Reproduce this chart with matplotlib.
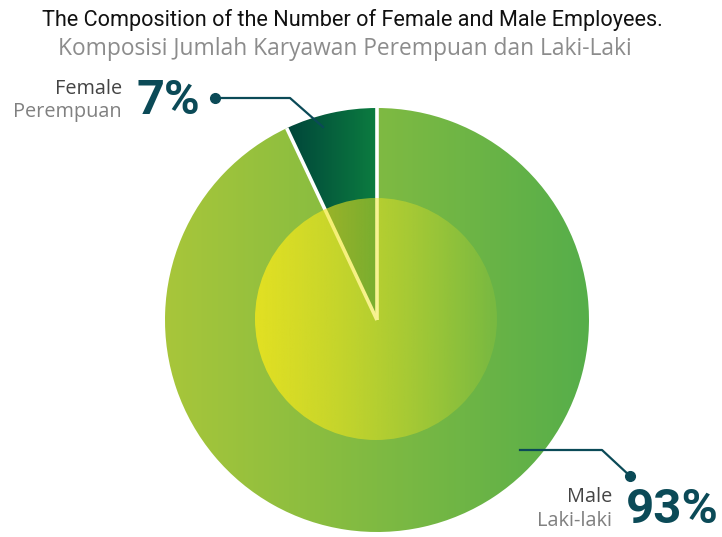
import numpy as np
import matplotlib.pyplot as plt
from matplotlib.patches import Wedge, Circle
from matplotlib.colors import LinearSegmentedColormap

labels_en = ["Female", "Male"]
labels_id = ["Perempuan", "Laki-laki"]
shares = [7, 93]
title_en = "The Composition of the Number of Female and Male Employees."
title_id = "Komposisi Jumlah Karyawan Perempuan dan Laki-Laki"

W, H = 722, 537
TEAL = "#0b4a57"
FONT = "Roboto"
FONT2 = "Open Sans"


def main():
    fig = plt.figure(figsize=(W / 100, H / 100), dpi=100)
    ax = fig.add_axes([0, 0, 1, 1])
    ax.set_xlim(0, W)
    ax.set_ylim(0, H)
    ax.axis("off")

    cx, cy, R = 377, 217, 212
    grad = np.linspace(0, 1, 256).reshape(1, -1)

    cmaps = [
        LinearSegmentedColormap.from_list("f", ["#00453a", "#0c7d40"]),
        LinearSegmentedColormap.from_list("m", ["#a8c63a", "#56ae4a"]),
    ]

    total = sum(shares)
    start = 90
    wedges = []
    for val, cmap in zip(shares, cmaps):
        end = start + 360 * val / total
        w = Wedge((cx, cy), R, start, end, facecolor="none", edgecolor="none")
        ax.add_patch(w)
        # gradient across the wedge's own horizontal extent
        x0, x1 = (cx - R, cx + R)
        if end - start < 180:
            a0, a1 = np.deg2rad(start), np.deg2rad(end)
            xs = [cx, cx + R * np.cos(a0), cx + R * np.cos(a1)]
            x0, x1 = min(xs), max(xs)
        im = ax.imshow(grad, cmap=cmap, extent=[x0, x1, cy - R, cy + R],
                       aspect="auto", zorder=1)
        im.set_clip_path(w)
        wedges.append((start, end))
        start = end

    # white separators
    for ang in [wedges[0][0], wedges[0][1]]:
        a = np.deg2rad(ang)
        ax.plot([cx, cx + R * np.cos(a)], [cy, cy + R * np.sin(a)],
                color="white", lw=2.6, zorder=2, solid_capstyle="butt")

    # inner translucent overlay
    r = 121
    ic = Circle((cx - 1, cy + 1), r, facecolor="none", edgecolor="none")
    ax.add_patch(ic)
    rgba = np.zeros((1, 256, 4))
    rgba[..., 0] = 240 / 255
    rgba[..., 1] = 230 / 255
    rgba[..., 2] = 30 / 255
    rgba[..., 3] = np.linspace(0.85, 0.12, 256)
    ov = ax.imshow(rgba, extent=[cx - 1 - r, cx - 1 + r, cy + 1 - r, cy + 1 + r],
                   aspect="auto", zorder=3)
    ov.set_clip_path(ic)

    # titles
    ax.text(352, H - 20, title_en, ha="center", va="center", fontsize=15.6,
            color="#111111", family=FONT)
    ax.text(345, H - 49, title_id, ha="center", va="center", fontsize=16.4,
            color="#8c8c8c", family=FONT2)

    # female callout
    ax.plot([215, 290, 323], [H - 98, H - 98, H - 127], color=TEAL, lw=1.6, zorder=4)
    ax.plot(215, H - 98, "o", color=TEAL, ms=7, zorder=4)
    ax.text(122, H - 89, labels_en[0], ha="right", va="center", fontsize=14.3,
            color="#444444", family=FONT2)
    ax.text(122, H - 112, labels_id[0], ha="right", va="center", fontsize=14.3,
            color="#808080", family=FONT2)
    ax.text(136, H - 101, f"{shares[0]}%", ha="left", va="center", fontsize=35,
            color=TEAL, fontweight="bold", family=FONT)

    # male callout
    ax.plot([520, 602, 630], [H - 450, H - 450, H - 476], color=TEAL, lw=1.6, zorder=4)
    ax.plot(630, H - 476, "o", color=TEAL, ms=7, zorder=4)
    ax.text(612, H - 497, labels_en[1], ha="right", va="center", fontsize=14.3,
            color="#444444", family=FONT2)
    ax.text(612, H - 521, labels_id[1], ha="right", va="center", fontsize=14.3,
            color="#808080", family=FONT2)
    ax.text(626, H - 510, f"{shares[1]}%", ha="left", va="center", fontsize=35.5,
            color=TEAL, fontweight="bold", family=FONT)

    fig.savefig("out.png", dpi=100)


if __name__ == "__main__":
    main()
